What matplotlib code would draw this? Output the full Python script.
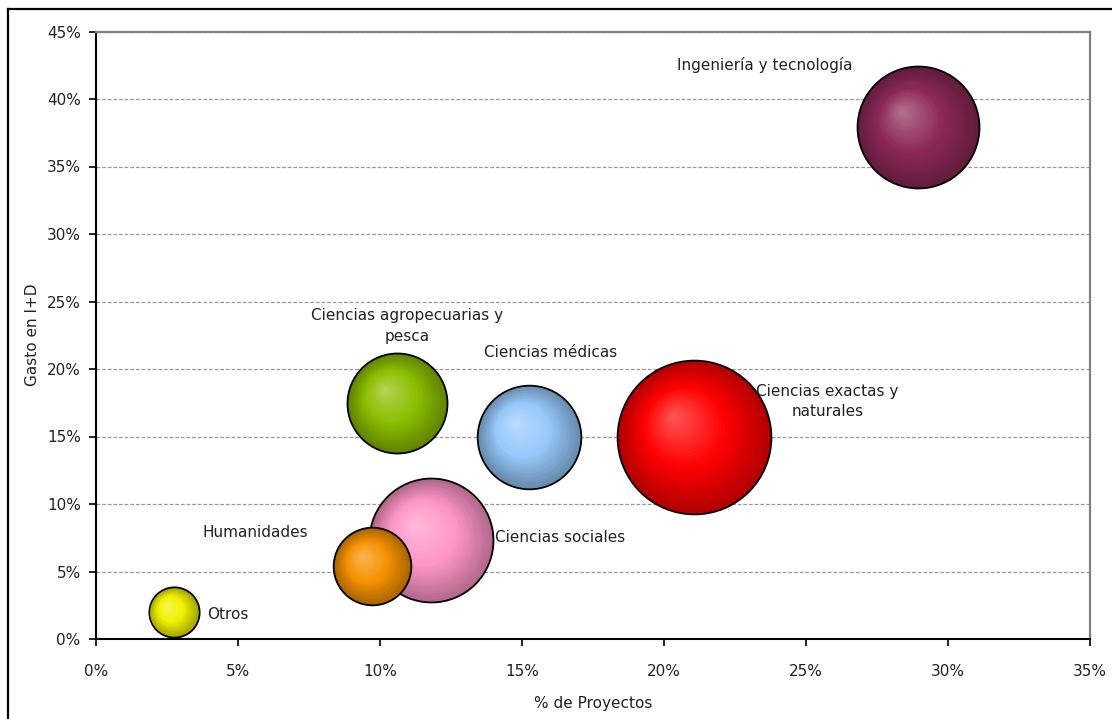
import numpy as np
import matplotlib
matplotlib.use("Agg")
import matplotlib.pyplot as plt
from matplotlib.transforms import offset_copy
from matplotlib.lines import Line2D

plt.rcParams['font.family'] = ['DejaVu Sans']

# disciplinas: % de proyectos, gasto en I+D (%), tamaño de burbuja
areas = ["Otros", "Humanidades", "Ciencias sociales",
         "Ciencias agropecuarias y\npesca", "Ciencias médicas",
         "Ciencias exactas y\nnaturales", "Ingeniería y tecnología"]
proyectos = [2.73, 9.72, 11.8, 10.6, 15.25, 21.06, 28.94]
gasto = [2.0, 5.4, 7.3, 17.5, 15.0, 15.0, 37.9]
tamano = [2.9, 7.1, 18.4, 11.9, 12.8, 28.5, 17.8]
colores = ["#f0f000", "#f59200", "#ff96c8", "#8cbe00", "#96c8fa", "#ff0000", "#8c2858"]

# posiciones de las etiquetas (coordenadas de datos) y alineacion
lab_x = [3.9, 5.62, 14.05, 10.95, 16.0, 25.75, 23.55]
lab_y = [1.85, 7.9, 7.5, 23.2, 21.25, 17.6, 42.5]
lab_ha = ["left", "center", "left", "center", "center", "center", "center"]

fig = plt.figure(figsize=(11.12, 7.19), dpi=100)
ax = fig.add_axes([96/1112, 80/719, (1090-96)/1112, (639-31.5)/719])

ax.set_xlim(0, 35)
ax.set_ylim(0, 45)
xt = np.arange(0, 36, 5)
yt = np.arange(0, 46, 5)
ax.set_xticks(xt)
ax.set_yticks(yt)
ax.set_xticklabels([f"{v}%" for v in xt])
ax.set_yticklabels([f"{v}%" for v in yt])
ax.tick_params(axis='x', length=5, width=1.2, pad=13, labelsize=11, labelcolor="#222222")
ax.tick_params(axis='y', length=5, width=1.2, pad=6, labelsize=11, labelcolor="#222222")

for v in yt[1:]:
    ax.axhline(v, color="#999999", lw=0.9, ls=(0, (3, 1.5)), zorder=0)

for s in ["left", "bottom"]:
    ax.spines[s].set_color("black")
    ax.spines[s].set_linewidth(1.5)
for s in ["top", "right"]:
    ax.spines[s].set_color("#808080")
    ax.spines[s].set_linewidth(1.6)

ax.set_xlabel("% de Proyectos", fontsize=11, labelpad=12, color="#222222")
ax.set_ylabel("Gasto en I+D", fontsize=11, labelpad=5, color="#222222")

# radio en pixeles proporcional a la raiz del tamano
rmax = 76.0
radios = [rmax*np.sqrt(t/max(tamano)) for t in tamano]

def mezcla(c1, c2, t):
    return tuple(np.array(c1)*(1-t) + np.array(c2)*t)

orden = np.argsort(tamano)[::-1]
capas = 28
for k, i in enumerate(orden):
    base = np.array(matplotlib.colors.to_rgb(colores[i]))
    oscuro = base*0.7
    claro = base + (1-base)*0.35
    r = radios[i]
    hx, hy = -0.28*r, 0.28*r
    zb = 2 + k*(capas+2)
    # borde negro
    ax.scatter([proyectos[i]], [gasto[i]], s=(2*(r+1.8)*0.72)**2,
               color="black", lw=0, zorder=zb)
    for j in range(capas):
        t = j/capas
        rr = r*(1-t)
        if t < 0.45:
            c = mezcla(oscuro, base, t/0.45)
        else:
            c = mezcla(base, claro, (t-0.45)/0.55)
        tr = offset_copy(ax.transData, fig=fig, x=hx*t, y=hy*t, units='dots')
        ax.scatter([proyectos[i]], [gasto[i]], s=(2*rr*0.72)**2, color=c,
                   lw=0, transform=tr, zorder=zb+1+j)

for i in range(len(areas)):
    ax.text(lab_x[i], lab_y[i], areas[i], ha=lab_ha[i], va="center",
            fontsize=11, linespacing=1.45, color="#222222", zorder=300)

# marco exterior del grafico
fx, fy = 8/1112, 1-9/719
fig.add_artist(Line2D([fx, fx], [-0.1, fy], color="black", lw=1.6))
fig.add_artist(Line2D([fx, 1.1], [fy, fy], color="black", lw=1.6))

fig.savefig("out.png", dpi=100)
